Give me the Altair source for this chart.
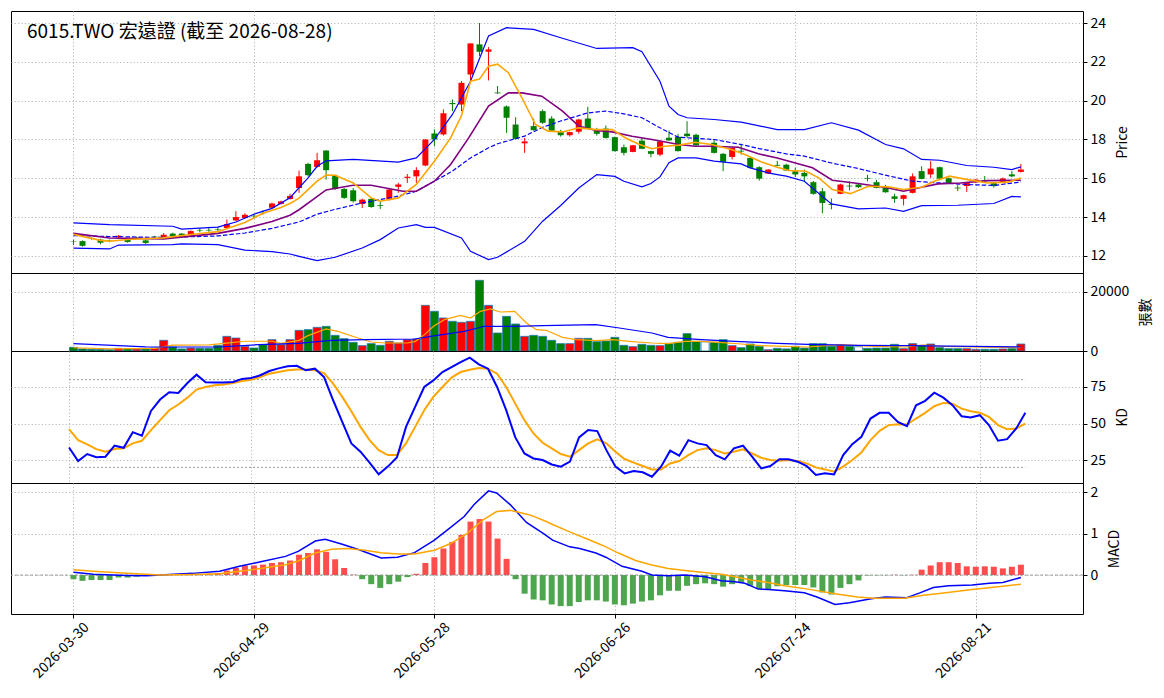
import json
import altair as alt
import pandas as pd

TITLE = "6015.TWO 宏遠證 (截至 2026-08-28)"
TICK_POS = [0, 20, 40, 60, 80, 100]
TICK_LABELS = ["2026-03-30", "2026-04-29", "2026-05-28", "2026-06-26", "2026-07-24", "2026-08-21"]

OPEN = [12.74,12.76,12.90,12.84,12.79,12.95,12.84,12.94,12.80,13.00,
        12.96,13.15,13.15,13.06,13.34,13.34,13.37,13.44,13.83,13.95,
        14.07,14.22,14.48,14.68,14.93,15.50,16.74,16.59,17.43,16.14,
        15.45,15.38,14.68,14.94,14.62,14.90,15.56,16.02,16.10,16.66,
        18.31,18.26,19.88,19.80,21.35,22.90,22.52,20.42,19.70,18.77,
        17.80,18.69,19.46,19.08,18.40,18.22,18.40,19.08,18.51,18.56,
        18.12,17.60,17.36,17.94,17.40,17.22,18.09,18.14,18.30,18.24,
        17.80,17.83,17.26,17.10,17.42,17.05,16.57,16.24,16.69,16.70,
        16.36,16.28,15.80,15.33,14.67,15.20,15.62,15.68,16.02,15.80,
        15.60,15.07,14.94,15.25,16.37,16.20,16.57,16.00,15.52,15.60,
        15.80,15.90,15.75,15.80,16.20,16.33]
HIGH = [12.84,12.80,12.95,12.88,12.84,13.08,12.88,12.98,12.84,13.04,
        13.18,13.20,13.18,13.32,13.44,13.50,13.50,13.88,14.31,14.20,
        14.17,14.35,14.75,14.85,15.20,16.40,16.80,17.31,17.45,16.18,
        15.50,15.50,14.95,15.00,14.78,15.44,15.77,16.22,16.57,18.02,
        18.52,19.55,20.06,21.01,22.95,24.00,22.76,20.75,19.75,19.15,
        18.08,19.08,19.55,19.20,18.50,18.40,19.06,19.68,18.60,18.72,
        18.15,17.74,17.72,18.10,17.42,17.95,18.46,18.29,18.94,18.30,
        17.85,18.00,17.30,17.60,17.78,17.12,16.62,16.47,16.90,16.75,
        16.56,16.45,15.86,15.50,14.96,15.72,15.84,15.73,16.18,15.92,
        15.66,15.20,15.15,16.25,16.62,16.88,16.60,16.05,15.65,15.80,
        15.96,16.12,15.80,16.04,16.37,16.74]
LOW = [12.56,12.48,12.84,12.60,12.70,12.92,12.68,12.88,12.62,12.94,
       12.93,12.98,12.94,13.04,13.22,13.25,13.29,13.40,13.80,13.92,
       13.92,14.12,14.45,14.65,14.90,15.25,16.10,16.55,15.93,15.40,
       14.94,14.75,14.47,14.48,14.42,14.85,15.25,15.76,15.76,16.62,
       17.65,18.20,19.46,19.46,20.92,22.30,21.04,20.35,18.34,18.00,
       17.31,18.45,18.80,18.40,18.15,18.15,18.30,18.55,18.20,18.05,
       17.38,17.18,17.34,17.50,17.08,17.14,17.93,17.38,18.10,17.68,
       17.75,17.28,16.37,16.97,17.22,16.50,15.88,16.22,16.62,16.38,
       16.06,15.85,15.15,14.20,14.40,15.18,15.38,15.50,15.84,15.48,
       15.26,14.73,14.60,15.22,15.94,16.02,15.96,15.72,15.34,15.30,
       15.75,15.80,15.52,15.76,16.06,16.30]
CLOSE = [12.72,12.52,12.88,12.68,12.77,13.04,12.72,12.92,12.67,12.98,
         13.09,13.00,12.97,13.28,13.31,13.31,13.34,13.64,14.00,14.12,
         14.04,14.20,14.70,14.81,15.09,16.10,16.16,16.93,16.42,15.45,
         14.99,14.82,14.90,14.52,14.58,15.42,15.68,16.08,16.42,18.00,
         18.00,19.35,19.82,20.92,22.95,22.52,22.64,20.38,19.12,18.03,
         17.90,18.48,18.86,18.45,18.22,18.38,19.03,18.57,18.29,18.08,
         17.40,17.31,17.70,17.52,17.26,17.90,17.95,17.40,18.17,17.70,
         17.80,17.31,16.85,17.57,17.38,16.54,15.98,16.45,16.65,16.40,
         16.20,16.10,15.20,14.73,14.63,15.68,15.58,15.54,15.98,15.50,
         15.28,14.94,15.13,16.10,15.97,16.50,15.98,15.76,15.48,15.76,
         15.93,15.85,15.60,15.99,16.10,16.45]

VOLUME = [1250,700,600,600,450,900,800,700,700,1000,
          3620,1350,700,1000,900,900,1900,4970,4400,1580,
          1020,2150,3840,2150,3840,7000,7230,8020,8360,5310,
          4180,2940,1810,2490,1920,3280,2710,3840,4070,15480,
          13450,11190,10060,9720,10060,23960,15480,6100,11750,9150,
          4970,5310,4970,3620,2490,2490,4290,4290,3160,3390,
          4630,1920,1470,2260,1920,1810,2600,2940,5880,3280,
          3100,2940,3840,1810,1130,2370,1580,450,900,700,
          1580,1000,2490,2490,1580,1920,1580,1450,900,1000,
          1000,2260,790,2490,1920,2370,1130,790,790,790,
          570,570,570,680,790,2370]
VOL_COLOR = ("gggggrgrgr" "rggrgggrrr" "ggrrrrgrgg" "ggrggrrrrr" "grgrrgrggg"
             "rggggrrggg" "ggrggrgggg" "wggrgggrgg" "gggggrgwgg" "ggrrgrgggr" "rggrgr")

BB_UPPER = [(0,13.70),(4,13.61),(11,13.53),(12,13.38),(16,13.48),(18,13.75),(20,14.15),(22,14.45),
            (24,15.0),(26,16.02),(27,16.62),(28,16.90),(31,16.97),(36,16.83),(38,17.05),(40,18.0),
            (42,19.29),(44,21.0),(46,23.33),(48,23.76),(51,23.67),(54,23.24),(58,22.69),(62,22.73),
            (63,22.52),(65,21.0),(66,19.72),(67,19.29),(68,19.12),(71,19.03),(74,18.89),(78,18.51),
            (81,18.51),(84,18.86),(87,18.48),(90,17.74),(92,17.52),(94,16.97),(96,16.93),(99,16.66),
            (102,16.57),(104,16.45),(105,16.59)]
BB_MID = [(0,13.05),(4,13.0),(10,12.95),(16,13.03),(19,13.18),(22,13.42),(25,13.75),(27,14.15),
          (29,14.4),(32,14.73),(36,15.08),(38,15.33),(40,15.85),(42,16.37),(44,17.05),(46,17.57),
          (47,17.78),(50,18.17),(52,18.63),(54,18.95),(57,19.37),(59,19.46),(61,19.32),(63,19.12),
          (65,18.6),(67,18.12),(71,18.0),(74,17.74),(76,17.53),(79,17.26),(81,17.14),(84,16.79),
          (87,16.5),(90,16.16),(93,15.85),(96,15.76),(99,15.68),(102,15.63),(105,15.81)]
BB_LOWER = [(0,12.40),(4,12.36),(5,12.56),(11,12.58),(12,12.62),(16,12.58),(19,12.30),(22,12.22),
            (24,12.1),(25,11.98),(27,11.76),(29,11.93),(32,12.41),(34,12.84),(36,13.44),(38,13.61),
            (39,13.47),(40,13.47),(43,12.93),(44,12.24),(46,11.81),(47,11.93),(50,12.75),(52,13.79),
            (54,14.6),(56,15.5),(58,16.19),(60,16.1),(61,15.85),(63,15.56),(64,15.73),(65,16.07),
            (66,16.8),(67,17.05),(69,17.05),(71,16.88),(74,16.74),(75,16.54),(77,16.28),(78,16.19),
            (79,16.11),(81,15.85),(84,14.68),(87,14.42),(90,14.47),(92,14.30),(94,14.59),(98,14.61),
            (102,14.70),(104,15.07),(105,15.04)]
MA5 = [(0,13.11),(3,12.8),(4,12.76),(6,12.85),(10,12.93),(13,13.1),(16,13.25),(19,13.72),(21,14.2),
       (23,14.5),(24,14.7),(25,14.98),(27,15.85),(28,16.17),(29,16.16),(31,15.76),(33,14.99),
       (34,14.82),(36,14.99),(38,15.68),(40,16.88),(41.8,18.08),(43,19.22),(44,21.0),(45,21.11),
       (46,21.77),(47,21.88),(48.2,21.44),(49.7,20.15),(51.2,18.77),(52.6,18.43),(54.2,18.39),
       (56,18.6),(57.9,18.51),(59.7,18.51),(61.2,18.08),(62.6,17.77),(64.1,17.52),(65.6,17.65),
       (67.1,17.71),(68.9,17.86),(70.7,17.74),(72.9,17.48),(74.4,17.22),(76.2,16.85),(78,16.57),
       (79.3,16.4),(81.2,16.36),(82.6,16.02),(84.1,15.42),(86.1,15.21),(88.1,15.59),(90.3,15.56),
       (92,15.42),(94,15.54),(95.4,15.85),(97.1,16.11),(99.1,15.93),(101.3,15.76),(103.6,15.8),
       (105,16.02)]
MA10 = [(0,13.16),(4,12.92),(10,12.88),(16,13.16),(19,13.42),(22,13.77),(24,14.1),(25,14.38),
        (28,15.4),(31,15.64),(33,15.64),(36.5,15.33),(38,15.33),(40,15.85),(41.8,16.71),(43.8,18.08),
        (46,19.72),(48.2,20.4),(49.7,20.4),(51.9,20.23),(54.2,19.46),(56,18.69),(57.9,18.46),
        (59.7,18.39),(61.9,18.17),(64.1,18.0),(67.1,17.74),(68.9,17.65),(70.7,17.65),(73.7,17.6),
        (75.9,17.26),(78,17.05),(79.3,16.88),(81.9,16.54),(84.1,15.9),(87,15.73),(90.3,15.5),
        (92,15.33),(94,15.54),(95.8,15.71),(98.3,15.76),(101.3,15.88),(105,15.9)]

VOL_MA5 = [(0,1100),(4,700),(9,900),(11,2000),(15,2100),(17,2700),(19,3300),(22,3300),(23,2600),
           (25,3600),(26,5200),(28,7460),(29.3,6670),(31.2,4750),(33,3050),(34.5,2710),(37,2710),
           (37.9,3280),(38.9,5540),(39.9,8360),(41.1,10620),(42.9,12090),(44,11190),(45.1,13450),
           (46.2,14240),(47.3,13220),(48.9,13450),(50.2,9490),(51.3,7230),(52.4,7010),(54.2,4630),
           (55.7,3840),(57.9,3500),(59.7,3840),(61.6,3280),(64.1,2710),(65.9,2490),(67.8,3280),
           (69.6,3280),(71.5,2940),(74,2370),(76.2,1810),(78.8,1580),(81.4,1360),(85,2150),
           (88.7,1580),(92.3,1360),(94.2,2030),(96.2,1580),(99.6,1360),(105,1130)]
VOL_MA20 = [(0,2490),(5,1800),(8,1400),(16,1360),(20.5,2150),(24.9,2600),(28.6,3616),(32.3,3842),
            (37.8,4068),(39.6,4972),(43.3,6667),(44.8,7797),(45.5,8362),(48.8,8362),(52,8590),
            (57.9,8927),(60.5,7797),(64.1,6102),(65.9,4633),(69.6,3842),(73.3,3277),(78,2600),
            (81.4,2260),(86.9,1921),(92.3,1808),(99.6,1582),(105,1356)]

K = [33.6,24.3,29.1,27.0,27.3,34.8,33.4,44.1,41.6,58.6,
     66.4,71.4,70.9,77.7,83.4,78.2,78.0,78.0,78.4,80.5,
     81.1,83.0,85.9,87.7,89.1,89.5,86.4,87.5,81.8,65.9,
     51.1,36.4,30.7,23.2,15.2,20.5,26.8,47.7,61.4,75.0,
     79.5,85.2,88.6,92.0,95.0,90.5,87.5,75.0,59.1,40.5,
     29.5,26.1,25.0,22.0,20.5,23.9,40.5,45.5,44.8,31.8,
     20.5,15.9,17.5,16.6,13.6,20.5,31.4,28.0,38.6,36.4,
     35.2,28.4,25.5,33.0,34.8,27.3,19.3,20.9,25.5,25.5,
     23.9,20.9,14.8,15.9,15.2,28.4,35.9,40.9,53.4,57.3,
     57.3,51.1,48.2,62.5,65.5,71.1,67.7,62.5,55.0,54.1,
     55.7,48.9,38.2,39.3,46.6,57.3]
D = [46.1,38.6,35.7,32.5,30.7,32.5,33.0,36.4,38.2,45.5,
     52.3,59.1,63.0,67.7,73.2,75.0,76.1,76.6,77.7,79.1,
     80.0,81.8,84.1,85.2,86.4,87.0,87.0,86.4,84.5,77.3,
     68.2,58.4,47.7,38.6,31.8,28.4,28.4,36.4,47.7,59.1,
     68.2,75.0,81.4,85.2,86.8,88.0,87.5,84.1,75.0,63.6,
     52.3,43.2,36.8,33.0,29.1,27.3,31.8,36.4,39.1,36.4,
     30.7,25.7,23.2,20.9,18.6,18.6,22.7,24.3,28.4,31.8,
     33.0,31.8,29.5,30.7,32.3,29.5,26.6,25.0,24.5,25.0,
     24.3,22.7,20.0,18.6,17.0,20.5,25.0,30.2,38.6,45.0,
     48.9,49.5,49.3,53.4,57.3,61.8,64.1,63.6,60.2,58.4,
     57.3,54.5,48.9,46.1,46.6,50.0]
KD_LEVELS = [80, 20]

MACD_HIST = [-0.10,-0.14,-0.12,-0.12,-0.12,-0.06,-0.06,-0.04,-0.02,-0.01,
             0.01,0.02,0.02,0.02,0.02,0.03,0.05,0.11,0.17,0.23,
             0.23,0.25,0.29,0.31,0.35,0.49,0.53,0.62,0.56,0.38,
             0.17,0.01,-0.10,-0.22,-0.31,-0.22,-0.16,-0.05,0.03,0.29,
             0.43,0.64,0.80,0.97,1.29,1.35,1.29,0.88,0.39,-0.10,
             -0.45,-0.59,-0.61,-0.71,-0.75,-0.75,-0.65,-0.61,-0.61,-0.64,
             -0.71,-0.73,-0.69,-0.64,-0.61,-0.49,-0.38,-0.38,-0.26,-0.22,
             -0.20,-0.22,-0.28,-0.22,-0.18,-0.26,-0.34,-0.34,-0.27,-0.24,
             -0.24,-0.24,-0.30,-0.42,-0.47,-0.31,-0.22,-0.13,-0.01,-0.005,
             -0.005,0.005,-0.005,0.005,0.13,0.23,0.31,0.31,0.29,0.21,
             0.20,0.21,0.20,0.16,0.20,0.25]
MACD_DIF = [(0,0.07),(2.2,0.02),(5.9,-0.01),(8.1,-0.02),(9.6,0.0),(13.2,0.04),(16.2,0.09),(18.4,0.21),
            (20.5,0.31),(23.5,0.45),(24.9,0.57),(26.8,0.82),(27.9,0.86),(29.7,0.75),(31.5,0.62),
            (34.1,0.41),(35.9,0.43),(37.8,0.54),(40,0.84),(41.8,1.15),(43.3,1.41),(44.4,1.70),
            (46,2.03),(46.9,1.98),(48.4,1.70),(50.2,1.27),(52.1,1.0),(53.1,0.84),(55,0.68),(56.1,0.64),
            (57.9,0.53),(59,0.43),(60.8,0.21),(63,0.09),(64.1,0.0),(65.9,-0.02),(67.8,0.0),(70,-0.04),
            (71.8,-0.14),(73.3,-0.16),(74.4,-0.20),(75.9,-0.34),(77,-0.35),(78.8,-0.38),(81,-0.43),
            (82.4,-0.53),(84.4,-0.71),(86,-0.67),(88.4,-0.57),(90,-0.53),(92.3,-0.55),(93.8,-0.43),
            (95.3,-0.30),(97,-0.26),(99.6,-0.24),(101.5,-0.20),(103,-0.18),(105,-0.06)]
MACD_DEA = [(0,0.13),(2.2,0.09),(5.9,0.04),(9.6,0.0),(13.2,0.01),(16.2,0.03),(18.4,0.09),(20.5,0.15),
            (23.5,0.25),(24.9,0.34),(26.8,0.53),(28.6,0.62),(30.4,0.64),(32.3,0.60),(34.1,0.54),
            (36,0.51),(37.8,0.51),(40,0.60),(41.8,0.76),(43.6,1.0),(45.4,1.33),(46.9,1.53),(48.4,1.56),
            (50.6,1.45),(52.4,1.29),(53.1,1.22),(55,1.04),(56.8,0.88),(58.6,0.72),(60.4,0.53),
            (62.3,0.35),(64.1,0.24),(65.9,0.16),(67.8,0.11),(69.6,0.07),(71.8,0.02),(73.3,-0.04),
            (75.1,-0.12),(77,-0.18),(78.8,-0.26),(81.4,-0.34),(84.4,-0.45),(86.9,-0.53),(88.7,-0.56),
            (92.1,-0.56),(94.2,-0.49),(96.2,-0.44),(99.6,-0.35),(103,-0.27),(105,-0.22)]

FONT = "Noto Sans CJK TC"
W = 1072
XDOM = [-6.37, 111.33]
GRID = dict(gridColor="#b0b0b0", gridDash=[1.2, 2.2], gridWidth=0.9)

idx = list(range(len(CLOSE)))
candle_col = ["r" if c > o else ("g" if c < o else "w") for o, c in zip(OPEN, CLOSE)]
df_c = pd.DataFrame({"i": idx, "o": OPEN, "h": HIGH, "l": LOW, "c": CLOSE, "col": candle_col})
df_v = pd.DataFrame({"i": idx, "v": VOLUME, "col": list(VOL_COLOR)})
df_kd = pd.DataFrame({"i": idx, "k": K, "d": D})
df_h = pd.DataFrame({"i": idx, "v": MACD_HIST, "hc": ["up" if v > 0 else "down" for v in MACD_HIST]})

col_scale = alt.Scale(domain=["r", "g", "w"], range=["#ff0000", "#008000", "#ffffff"])
hist_scale = alt.Scale(domain=["up", "down"], range=["#ff4d4d", "#4da64d"])


def pts(lst):
    return pd.DataFrame({"i": [p[0] for p in lst], "v": [p[1] for p in lst]})


def xenc(field="i", bottom=False):
    if bottom:
        ax = alt.Axis(values=TICK_POS,
                      labelExpr=f"{json.dumps(TICK_LABELS)}[indexof({json.dumps(TICK_POS)}, datum.value)]",
                      labelAngle=315, labelAlign="right", labelBaseline="top", labelOffset=8,
                      grid=True, ticks=True, tickSize=4, domain=False, title=None,
                      labelFontSize=14, labelPadding=2, **GRID)
    else:
        ax = alt.Axis(values=TICK_POS, labels=False, ticks=False, domain=False, grid=True,
                      title=None, **GRID)
    return alt.X(f"{field}:Q", scale=alt.Scale(domain=XDOM, nice=False, zero=False), axis=ax)


def yaxis(vals, title, fmt=None):
    kw = dict(orient="right", values=vals, title=title, titleAngle=270, titleBaseline="top",
              tickSize=4, domain=False, grid=True, labelPadding=3, titlePadding=10, **GRID)
    if fmt:
        kw["format"] = fmt
    return alt.Axis(**kw)


def yenc(field, dom, ax):
    return alt.Y(f"{field}:Q", scale=alt.Scale(domain=dom, nice=False, zero=False), axis=ax)


# ---------- price panel ----------
PD = [11.12, 24.62]
pax = yaxis([12, 14, 16, 18, 20, 22, 24], "Price")
base_c = alt.Chart(df_c)
wick = base_c.mark_rule(strokeWidth=1).encode(
    x=xenc(), y=yenc("l", PD, pax), y2="h:Q",
    color=alt.Color("col:N", scale=col_scale, legend=None))
body = base_c.mark_bar(width=6).encode(
    x=xenc(), y=yenc("o", PD, pax), y2="c:Q",
    color=alt.Color("col:N", scale=col_scale, legend=None))


def pline(lst, color, w, dom, ax, dash=None):
    kw = dict(color=color, strokeWidth=w, clip=True)
    if dash:
        kw["strokeDash"] = dash
    return alt.Chart(pts(lst)).mark_line(**kw).encode(x=xenc(), y=yenc("v", dom, ax))


title_txt = alt.Chart(pd.DataFrame({"t": [TITLE]})).mark_text(
    align="left", baseline="middle", fontSize=19, font=FONT, color="black").encode(
    x=alt.value(16), y=alt.value(21), text="t:N")

price = alt.layer(
    wick, body,
    pline(BB_UPPER, "#0000ff", 1.2, PD, pax),
    pline(BB_LOWER, "#0000ff", 1.2, PD, pax),
    pline(BB_MID, "#0000ff", 1.2, PD, pax, dash=[4.5, 2]),
    pline(MA10, "#800080", 1.6, PD, pax),
    pline(MA5, "#ffa500", 1.6, PD, pax),
    title_txt,
).properties(width=W, height=262)

# ---------- volume panel ----------
VD = [0, 26440]
vax = yaxis([0, 20000], "張數", fmt="d")
vbars = alt.Chart(df_v).mark_bar(width=8, stroke="#1f77b4", strokeWidth=0.8).encode(
    x=xenc(), y=yenc("v", VD, vax), y2=alt.datum(0),
    color=alt.Color("col:N", scale=col_scale, legend=None))
volume = alt.layer(
    vbars,
    pline(VOL_MA5, "#ffa500", 1.2, VD, vax),
    pline(VOL_MA20, "#0000ff", 1.2, VD, vax),
).properties(width=W, height=78)

# ---------- KD panel ----------
KDD = [9.3, 99.6]
kax = yaxis([25, 50, 75], "KD")
df_lv = pd.DataFrame({"a": [idx[0]] * len(KD_LEVELS), "b": [idx[-1]] * len(KD_LEVELS), "v": KD_LEVELS})
levels = alt.Chart(df_lv).mark_rule(color="#999999", strokeDash=[2, 2], strokeWidth=1).encode(
    x=xenc("a"), x2="b:Q", y=yenc("v", KDD, kax))
kline = alt.Chart(df_kd).mark_line(color="#0000ff", strokeWidth=2).encode(x=xenc(), y=yenc("k", KDD, kax))
dline = alt.Chart(df_kd).mark_line(color="#ffa500", strokeWidth=2).encode(x=xenc(), y=yenc("d", KDD, kax))
kd = alt.layer(levels, dline, kline).properties(width=W, height=132)

# ---------- MACD panel ----------
MD = [-0.94, 2.22]
max_ = yaxis([0, 1, 2], "MACD")
hist = alt.Chart(df_h).mark_bar(width=6).encode(
    x=xenc(bottom=True), y=yenc("v", MD, max_), y2=alt.datum(0),
    color=alt.Color("hc:N", scale=hist_scale, legend=None))
zero = alt.Chart(pd.DataFrame({"v": [0]})).mark_rule(color="#888888", strokeDash=[3, 2], strokeWidth=0.8).encode(
    y=yenc("v", MD, max_))


def mline(lst, color):
    return alt.Chart(pts(lst)).mark_line(color=color, strokeWidth=1.5).encode(
        x=xenc(bottom=True), y=yenc("v", MD, max_))


macd = alt.layer(hist, zero, mline(MACD_DIF, "#0000ff"), mline(MACD_DEA, "#ffa500")).properties(
    width=W, height=131)

chart = alt.vconcat(price, volume, kd, macd, spacing=0, bounds="flush").resolve_scale(
    color="independent"
).properties(
    padding={"left": 2, "top": 2, "right": 2, "bottom": 2}, background="white"
).configure_view(stroke="black", strokeWidth=1).configure_axis(
    labelFont=FONT, titleFont=FONT, labelFontSize=14, titleFontSize=14, labelColor="black",
    titleColor="black", tickColor="black", titleFontWeight="normal"
)

chart.save("out.html", embed_options={"renderer": "svg", "actions": False})
